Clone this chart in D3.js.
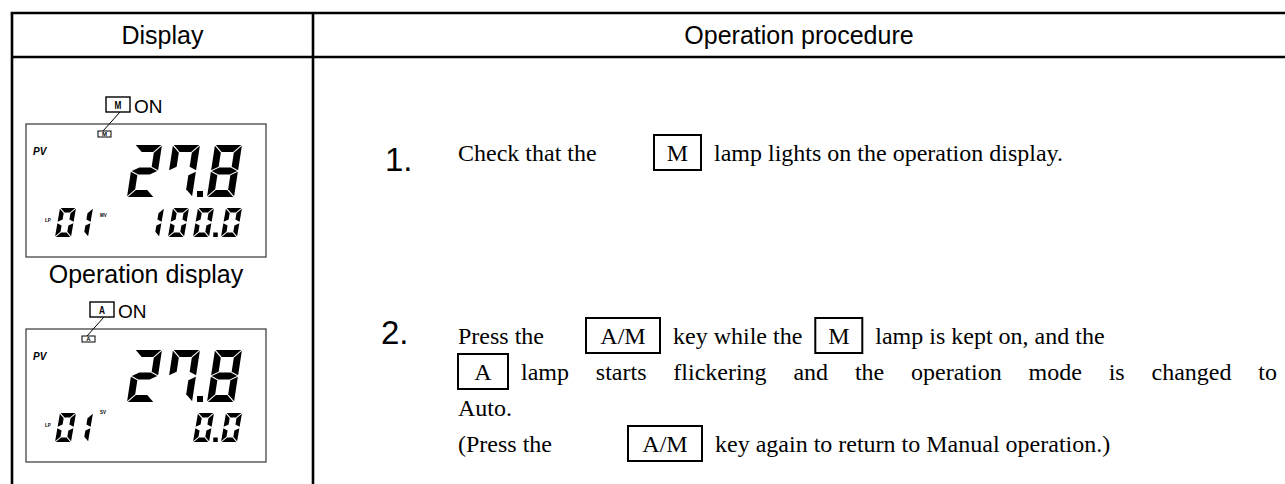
<!DOCTYPE html>
<html><head><meta charset="utf-8">
<script src="https://cdn.jsdelivr.net/npm/d3@7"></script>
<style>body{margin:0;background:#fff} svg{display:block}</style>
</head><body><svg id="c" width="1285" height="484"></svg>
<script>
// ---------- data ----------
const headers = ["Display", "Operation procedure"];
const displayCaption = "Operation display";
const lampLabels = ["M", "A"];
const lampStates = ["ON", "ON"];
const pvLabel = "PV";
const pvValues = ["27.8", "27.8"];
const loopTag = "LP";
const loopValues = ["01", "01"];
const outTags = ["MV", "SV"];
const outValues = ["100.0", "0.0"];
const stepNumbers = ["1.", "2."];
const step1Lines = [
  [{t:"Check that the"},{k:"M", tab:"t2"},{t:"lamp lights on the operation display."}]
];
const step2Lines = [
  [{t:"Press the"},{k:"A/M", tab:"t1"},{t:"key while the"},{k:"M"},{t:"lamp is kept on, and the"}],
  [{k:"A"},{t:"lamp starts flickering and the operation mode is changed to", j:true}],
  [{t:"Auto."}],
  [{t:"(Press the"},{k:"A/M", tab:"t3"},{t:"key again to return to Manual operation.)"}]
];

// ---------- layout ----------
const svg = d3.select("#c");
const SANS = "'Liberation Sans', Arial, sans-serif";
const SERIF = "'Liberation Serif', 'Times New Roman', serif";

const tbl = {left:12, top:13, headBottom:57, divider:313, right:1285, bottom:484};
const rowY = d3.scaleOrdinal().domain([0,1]).range([124, 329]); // LCD tops
const lcd = {x:26, w:240, h:133};

const tl = svg.append("g").attr("stroke","#000").attr("stroke-width",2.6);
tl.append("line").attr("x1",tbl.left-1.3).attr("x2",tbl.right).attr("y1",tbl.top).attr("y2",tbl.top);
tl.append("line").attr("x1",tbl.left).attr("x2",tbl.right).attr("y1",tbl.headBottom).attr("y2",tbl.headBottom);
tl.append("line").attr("x1",tbl.left).attr("x2",tbl.left).attr("y1",tbl.top).attr("y2",tbl.bottom);
tl.append("line").attr("x1",tbl.divider).attr("x2",tbl.divider).attr("y1",tbl.top).attr("y2",tbl.bottom);

svg.append("text").attr("x",(tbl.left+tbl.divider)/2).attr("y",44).attr("text-anchor","middle")
  .attr("font-family",SANS).attr("font-size",25).text(headers[0]);
svg.append("text").attr("x",(tbl.divider+tbl.right)/2).attr("y",44).attr("text-anchor","middle")
  .attr("font-family",SANS).attr("font-size",25).text(headers[1]);

// ---------- seven segment ----------
function segs(w,h,t,g){
  const m=h/2;
  return {
    a:[[g,0],[w-g,0],[w-t-g,t],[t+g,t]],
    d:[[t+g,h-t],[w-t-g,h-t],[w-g,h],[g,h]],
    g:[[g,m],[t+g,m-t/2],[w-t-g,m-t/2],[w-g,m],[w-t-g,m+t/2],[t+g,m+t/2]],
    f:[[0,g],[t,t+g],[t,m-t/2-g],[0,m-g]],
    b:[[w,g],[w,m-g],[w-t,m-t/2-g],[w-t,t+g]],
    e:[[0,m+g],[t,m+t/2+g],[t,h-t-g],[0,h-g]],
    c:[[w,m+g],[w,h-g],[w-t,h-t-g],[w-t,m+t/2+g]]
  };
}
const digitMap = {"0":"abcdef","1":"bc","2":"abdeg","3":"abcdg","4":"bcfg","5":"acdfg","6":"acdefg","7":"abcf","8":"abcdefg","9":"abcdfg"};

function drawDigit(g, ch, left, top, o){
  const S = segs(o.w,o.h,o.t,o.gap);
  const sk = o.slant/o.h;
  (digitMap[ch]||"").split("").forEach(k=>{
    const pts = S[k].map(([x,y])=>[left + x + (o.h-y)*sk, top + y]);
    g.append("polygon").attr("points", pts.map(p=>p.join(",")).join(" ")).attr("fill","#000");
  });
}
function drawField(g, str, rightX, top, o){
  let left = rightX - (o.w + o.slant);
  const chars = str.split("").reverse();
  let pendingDot = false, prevLeft = null;
  chars.forEach(ch=>{
    if(ch==="."){ pendingDot = true; return; }
    if(prevLeft!==null){
      left = prevLeft - o.pitch - (pendingDot? o.dotExtra:0);
      if(pendingDot){
        const cx = (left + o.w + prevLeft)/2 + 0.5;
        g.append("rect").attr("x",cx-o.dot/2).attr("y",top+o.h-o.dot).attr("width",o.dot).attr("height",o.dot).attr("fill","#000");
        pendingDot=false;
      }
    }
    drawDigit(g, ch, left, top, o);
    prevLeft = left;
  });
}
function drawFieldLeft(g, str, leftX, top, o){
  str.split("").forEach((ch,i)=> drawDigit(g, ch, leftX + i*o.pitch, top, o));
}

const big = {w:27, h:52, t:7, slant:8, gap:0.8, pitch:38, dotExtra:4, dot:6};
const small = {w:16, h:29, t:4.6, slant:5, gap:0.7, pitch:25, dotExtra:3, dot:4.5};
const loopFmt = Object.assign({}, small, {pitch:17});
const lampOffset = {A:56, M:72};
const tagOffset = {MV:93, SV:85};

[0,1].forEach(i=>{
  const top = rowY(i);
  const g = svg.append("g");
  g.append("rect").attr("x",lcd.x).attr("y",top).attr("width",lcd.w).attr("height",lcd.h)
    .attr("fill","none").attr("stroke","#444").attr("stroke-width",1.3);
  const lk = lampLabels[i];
  const lx = lcd.x + lampOffset[lk];
  g.append("rect").attr("x",lx).attr("y",top+7).attr("width",13).attr("height",6)
    .attr("fill","none").attr("stroke","#000").attr("stroke-width",1);
  g.append("text").attr("x",lx+6.5).attr("y",top+12.3).attr("text-anchor","middle")
    .attr("font-family",SANS).attr("font-weight","bold").attr("font-size",6).text(lk);
  const bx = lx + 8, by = top - 27;
  g.append("rect").attr("x",bx).attr("y",by).attr("width",24).attr("height",15)
    .attr("fill","none").attr("stroke","#000").attr("stroke-width",1.4);
  g.append("text").attr("x",bx+12).attr("y",by+12).attr("text-anchor","middle")
    .attr("font-family",SANS).attr("font-weight","bold").attr("font-size",11)
    .attr("transform",`translate(${bx+12},0) scale(0.75,1) translate(${-(bx+12)},0)`).text(lk);
  g.append("text").attr("x",bx+28).attr("y",by+16).attr("font-family",SANS).attr("font-size",19).text(lampStates[i]);
  g.append("line").attr("x1",bx+14).attr("y1",by+15).attr("x2",lx+5).attr("y2",top+7)
    .attr("stroke","#000").attr("stroke-width",1);
  g.append("text").attr("x",lcd.x+7).attr("y",top+31).attr("font-family",SANS).attr("font-style","italic")
    .attr("font-weight","bold").attr("font-size",10).text(pvLabel);
  drawField(g, pvValues[i], lcd.x+216, top+21, big);
  g.append("text").attr("x",lcd.x+19).attr("y",top+98).attr("font-family",SANS).attr("font-weight","bold")
    .attr("font-size",4.5).text(loopTag);
  drawFieldLeft(g, loopValues[i], lcd.x+29, top+84, loopFmt);
  g.append("text").attr("x",lcd.x+74).attr("y",top+tagOffset[outTags[i]]).attr("font-family",SANS).attr("font-weight","bold")
    .attr("font-size",4.5).text(outTags[i]);
  drawField(g, outValues[i], lcd.x+216, top+84, small);
});

svg.append("text").attr("x",146).attr("y",283).attr("text-anchor","middle")
  .attr("font-family",SANS).attr("font-size",25).text(displayCaption);

// ---------- procedure text ----------
const FS = 24;
const measure = (() => {
  const t = svg.append("text").attr("font-family",SERIF).attr("font-size",FS).attr("visibility","hidden");
  return s => { t.text(s); return t.node().getComputedTextLength(); };
})();
const spaceW = measure("a a") - measure("aa");
const keyW = {"M":47, "A":50, "A/M":74};
const boxGap = 13;
const tabStops = {t1:586, t2:654, t3:628};

function drawLine(g, runs, x0, base, right){
  let x = x0;
  runs.forEach((r,ri)=>{
    if(r.k){
      if(r.tab) x = tabStops[r.tab];
      else if(ri>0) x += boxGap - spaceW;
      const w = keyW[r.k];
      g.append("rect").attr("x",x).attr("y",base-26).attr("width",w).attr("height",35)
        .attr("fill","none").attr("stroke","#000").attr("stroke-width",2);
      g.append("text").attr("x",x+w/2).attr("y",base).attr("text-anchor","middle")
        .attr("font-family",SERIF).attr("font-size",FS).text(r.k);
      x += w + boxGap;
    } else if(r.j){
      const words = r.t.split(" ");
      const ws = words.map(measure);
      const extra = (right - x - d3.sum(ws)) / (words.length-1);
      words.forEach((wd,i)=>{
        g.append("text").attr("x",x).attr("y",base).attr("font-family",SERIF).attr("font-size",FS).text(wd);
        x += ws[i] + extra;
      });
    } else {
      g.append("text").attr("x",x).attr("y",base).attr("font-family",SERIF).attr("font-size",FS).text(r.t);
      x += measure(r.t) + spaceW;
    }
  });
}
const tg = svg.append("g");
const textX = 458, rightEdge = 1277;
tg.append("text").attr("x",385).attr("y",171).attr("font-family",SANS).attr("font-size",33).text(stepNumbers[0]);
step1Lines.forEach((ln,i)=> drawLine(tg, ln, textX, 161 + i*36, rightEdge));
tg.append("text").attr("x",381).attr("y",344).attr("font-family",SANS).attr("font-size",33).text(stepNumbers[1]);
step2Lines.forEach((ln,i)=> drawLine(tg, ln, textX, 344 + i*36, rightEdge));
</script></body></html>
